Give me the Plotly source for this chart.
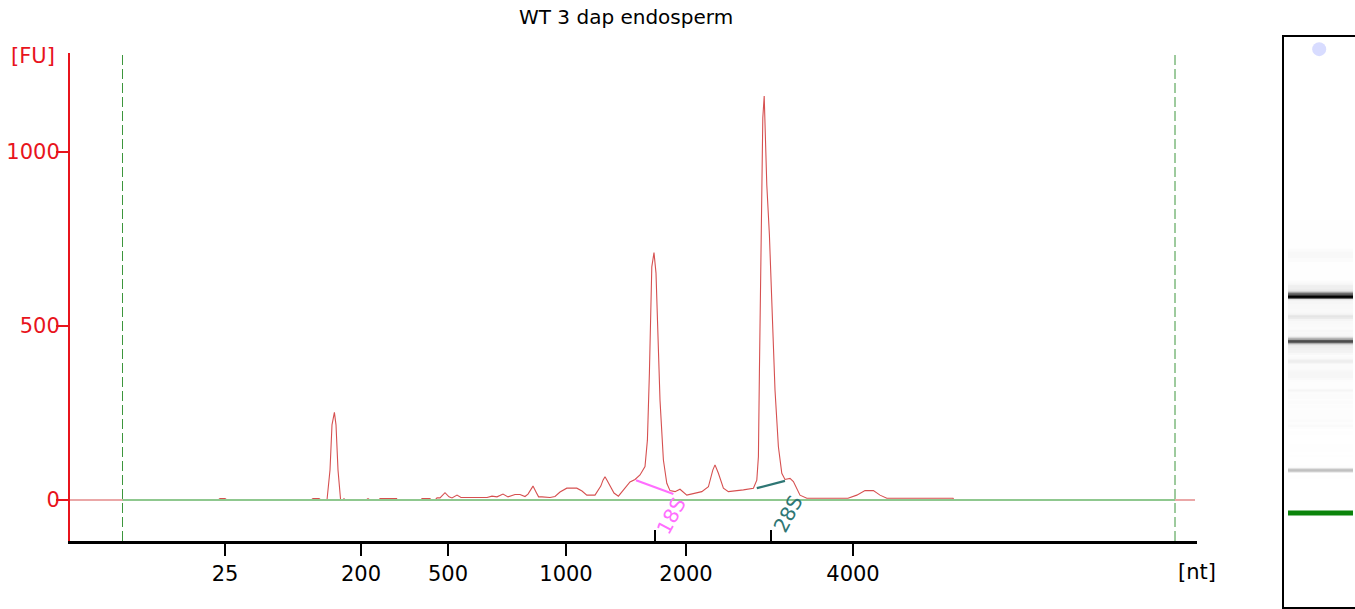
import plotly.graph_objects as go

# ---------------- data ----------------
# migration time (s) and fluorescence (FU) of the electropherogram
time_s = [18.0, 25.4, 25.5, 25.75, 25.85, 30.05, 30.15, 30.45, 30.55, 30.85,
          31.0, 31.1, 31.22, 31.3, 31.4, 31.53, 31.65, 31.7, 31.75, 32.8,
          32.9, 33.0, 33.45, 33.5, 34.33, 34.35, 35.55, 35.6, 36.0, 36.05,
          36.25, 36.35, 36.5, 36.75, 36.95, 37.1, 37.35, 37.55, 38.85, 39.1,
          39.35, 39.65, 39.9, 40.25, 40.5, 40.75, 40.9, 41.0, 41.15, 41.3,
          41.43, 41.6, 42.0, 42.25, 42.5, 42.84, 43.34, 43.6, 43.84, 44.25,
          44.54, 44.65, 44.75, 44.85, 45.0, 45.2, 45.42, 45.65, 46.0, 46.25,
          46.5, 46.75, 46.87, 46.97, 47.09, 47.2, 47.3, 47.5, 47.67, 47.84,
          48.0, 48.25, 48.5, 48.84, 49.17, 49.59, 49.92, 50.14, 50.25, 50.42,
          50.67, 50.92, 51.67, 52.17, 52.34, 52.42, 52.47, 52.54, 52.59, 52.64,
          52.71, 52.75, 52.84, 52.97, 53.05, 53.1, 53.25, 53.42, 53.59, 53.75,
          54.0, 54.17, 54.35, 54.5, 54.84, 56.9, 57.34, 57.75, 58.17, 58.5,
          58.84, 62.15, 62.2, 74.25]
fluor_fu = [0, 0, 4, 4, 0, 0, 4, 4, 0, 0,
            86, 216, 252, 216, 86, 0, 0, 4, 0, 0,
            4, 0, 0, 4, 4, 0, 0, 4, 4, 0,
            0, 6, 6, 21, 9, 6, 14, 7, 7, 11,
            9, 17, 9, 16, 16, 10, 17, 26, 40, 23,
            9, 9, 7, 10, 23, 34, 34, 26, 14, 14,
            40, 57, 67, 57, 40, 20, 11, 26, 52, 59,
            72, 96, 172, 365, 670, 711, 652, 287, 115, 48,
            27, 24, 31, 14, 19, 24, 38, 86, 101, 77,
            34, 24, 29, 34, 57, 124, 365, 714, 905, 1098,
            1161, 1097, 905, 762, 618, 555, 316, 153, 77, 59,
            62, 53, 29, 14, 5, 5, 14, 27, 27, 14,
            5, 5, 0, 0]

# size ladder: tick labels (nt) and their migration times (s)
ladder_nt = ["25", "200", "500", "1000", "2000", "4000"]
ladder_time = [25.75, 32.55, 36.9, 42.8, 48.8, 57.15]

# lower / upper alignment markers (s)
marker_times = [20.625, 73.25]

# ribosomal peak annotations
rrna_names = ["18S", "28S"]
rrna_time = [47.25, 53.03]
rrna_colors = ["#ff6eff", "#2e7674"]
rrna_base_t = [[46.3, 48.17], [52.34, 53.75]]
rrna_base_fu = [[57, 17], [34, 55]]
rrna_label_t = [48.05, 53.9]
rrna_label_fu = [-45, -40]

fu_ticks = [0, 500, 1000]

# gel-lane elements
gel_marker_time = 25.9        # green lower-marker band
well_time = 83.45             # sample well dot

title = "WT 3 dap endosperm"

# ---------------- figure ----------------
W, H = 1355, 609
FONT = "DejaVu Sans"
RED = "#e8141c"

def px_x(p):
    return p / W

def px_y(p):
    return 1 - p / H

fig = go.Figure()

# electropherogram trace
fig.add_trace(go.Scatter(x=time_s, y=fluor_fu, mode="lines",
                         line=dict(color="#d65050", width=1.1),
                         hoverinfo="skip", showlegend=False))
# baseline between markers
fig.add_trace(go.Scatter(x=marker_times, y=[0, 0], mode="lines",
                         line=dict(color="#8fc88f", width=2),
                         hoverinfo="skip", showlegend=False))

# rRNA baselines and labels
for name, col, bt, bf, lt, lf in zip(rrna_names, rrna_colors, rrna_base_t,
                                     rrna_base_fu, rrna_label_t, rrna_label_fu):
    fig.add_trace(go.Scatter(x=bt, y=bf, mode="lines",
                             line=dict(color=col, width=2.2),
                             hoverinfo="skip", showlegend=False))
    fig.add_annotation(x=lt, y=lf, xref="x", yref="y", text=name,
                       showarrow=False, textangle=-62,
                       xanchor="center", yanchor="middle",
                       font=dict(family=FONT, size=20, color=col))

# alignment marker dashed lines
for mt in marker_times:
    fig.add_shape(type="line", x0=mt, x1=mt, xref="x", y0=0, y1=1,
                  yref="y domain",
                  line=dict(color="#3c963c", width=1, dash="10px,4px"))

# gel lane (heatmap built from the same trace)
fig.add_trace(go.Heatmap(x=[0], y=time_s, z=[[v] for v in fluor_fu],
                         xaxis="x3", yaxis="y3", zmin=0, zmax=1000,
                         colorscale=[[0, "#ffffff"], [1, "#000000"]],
                         showscale=False, hoverinfo="skip"))
fig.add_shape(type="line", xref="x3", yref="y3", x0=-0.5, x1=0.5,
              y0=gel_marker_time, y1=gel_marker_time,
              line=dict(color="#0b840b", width=5))
fig.add_trace(go.Scatter(x=[-0.02], y=[well_time], mode="markers",
                         xaxis="x3", yaxis="y3",
                         marker=dict(size=14, color="#d8dcff"),
                         hoverinfo="skip", showlegend=False))

# invisible trace to activate overlay axis with rRNA ticks
fig.add_trace(go.Scatter(x=rrna_time, y=[0, 0], xaxis="x2", yaxis="y",
                         mode="markers", marker=dict(opacity=0),
                         hoverinfo="skip", showlegend=False))

xdom = [px_x(70), px_x(1197)]
xr = [18.0, 74.35]

fig.update_layout(
    width=W, height=H,
    margin=dict(l=0, r=0, t=0, b=0),
    paper_bgcolor="white", plot_bgcolor="rgba(0,0,0,0)",
    showlegend=False,
    font=dict(family=FONT, size=21, color="black"),
    xaxis=dict(domain=xdom, range=xr, anchor="y",
               showline=True, linecolor="black", linewidth=3,
               ticks="outside", ticklen=12, tickwidth=2, tickcolor="black",
               tickvals=ladder_time, ticktext=ladder_nt,
               tickfont=dict(family=FONT, size=21, color="black"),
               showgrid=False, zeroline=False, fixedrange=True),
    xaxis2=dict(domain=xdom, range=xr, anchor="y", overlaying="x",
                side="bottom", showline=False,
                ticks="inside", ticklen=11, tickwidth=2, tickcolor="black",
                tickvals=rrna_time, showticklabels=False,
                showgrid=False, zeroline=False),
    yaxis=dict(domain=[px_y(541), px_y(53)], range=[-117.8, 1284.5],
               anchor="x",
               showline=True, linecolor=RED, linewidth=2,
               ticks="outside", ticklen=12, tickwidth=2, tickcolor=RED,
               tickvals=fu_ticks, ticklabelstandoff=-8,
               tickfont=dict(family=FONT, size=21, color=RED),
               showgrid=False, zeroline=False),
    xaxis3=dict(domain=[px_x(1284), 1.0], range=[-0.5615, 0.531],
                anchor="y3", showline=True, linecolor="black", linewidth=2,
                mirror=True, showticklabels=False, ticks="",
                showgrid=False, zeroline=False),
    yaxis3=dict(domain=[px_y(607), px_y(37)], range=[14.24, 84.96],
                anchor="x3", showline=True, linecolor="black", linewidth=2,
                showticklabels=False, ticks="",
                showgrid=False, zeroline=False),
)

fig.add_annotation(x=px_x(626), y=px_y(17), xref="paper", yref="paper",
                   text=title, showarrow=False,
                   xanchor="center", yanchor="middle",
                   font=dict(family=FONT, size=20, color="black"))
fig.add_annotation(x=px_x(33), y=px_y(56), xref="paper", yref="paper",
                   text="[FU]", showarrow=False,
                   xanchor="center", yanchor="middle",
                   font=dict(family=FONT, size=21, color=RED))
fig.add_annotation(x=px_x(1197), y=px_y(572), xref="paper", yref="paper",
                   text="[nt]", showarrow=False,
                   xanchor="center", yanchor="middle",
                   font=dict(family=FONT, size=21, color="black"))

fig.write_html("out.html",
               config={"displayModeBar": False},
               post_script="document.body.style.margin='0';"
                           "document.body.style.overflow='hidden';")
